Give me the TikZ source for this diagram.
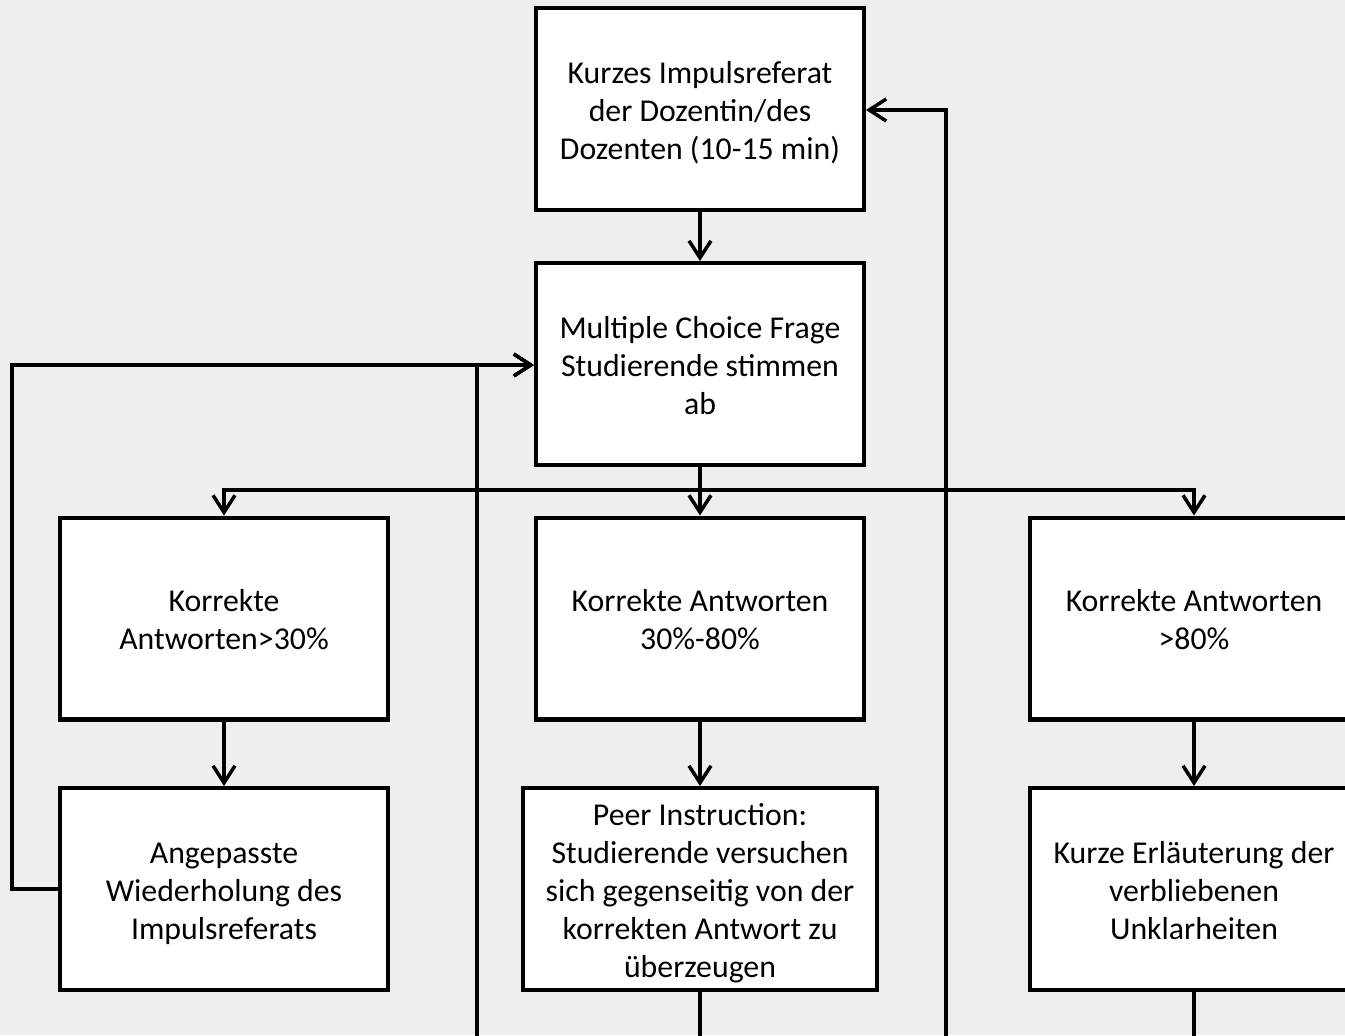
\documentclass[tikz,border=0pt]{standalone}
\usepackage{fontspec}
\setmainfont{Carlito}
\usetikzlibrary{arrows.meta}
\definecolor{bg}{RGB}{238,238,238}
\newcommand{\boxtext}[1]{\raisebox{-0.09cm}[\height][\depth]{\begin{tabular}{@{}c@{}}#1\end{tabular}}}
\begin{document}
\begin{tikzpicture}[x=0.02cm,y=-0.02cm,
  box/.style={draw=black,fill=white,line width=2.3pt,minimum width=6.56cm,minimum height=4.04cm,inner sep=2pt,font=\fontsize{18.1}{21.6}\selectfont},
  conn/.style={line width=2pt,draw=black},
  arr/.style={conn,-{Straight Barb[length=0.34cm,width=0.44cm,line width=2pt]}}]
\useasboundingbox (0,0) rectangle (1345,1035);
\clip (0,0) rectangle (1345,1035);
\fill[bg] (0,0) rectangle (1345,1035);
\node[box] (b1) at (700,109) {\boxtext{Kurzes Impulsreferat\\der Dozentin/des\\Dozenten (10-15 min)}};
\node[box] (b2) at (700,364) {\boxtext{Multiple Choice Frage\\Studierende stimmen\\ab}};
\node[box] (l1) at (224,618.5) {\boxtext{Korrekte\\Antworten>30\%}};
\node[box] (m1) at (700,618.5) {\boxtext{Korrekte Antworten\\30\%-80\%}};
\node[box] (r1) at (1194,618.5) {\boxtext{Korrekte Antworten\\>80\%}};
\node[box] (l2) at (224,889) {\boxtext{Angepasste\\Wiederholung des\\Impulsreferats}};
\node[box,minimum width=7.1cm] (m2) at (700,889) {\boxtext{Peer Instruction:\\Studierende versuchen\\sich gegenseitig von der\\korrekten Antwort zu\\überzeugen}};
\node[box] (r2) at (1194,889) {\boxtext{Kurze Erläuterung der\\verbliebenen\\Unklarheiten}};
\coordinate (j) at (700,490);
\coordinate (fl) at (12,889);
\coordinate (fl2) at (12,365);
\coordinate (mb) at (700,1080);
\coordinate (mc) at (477,1080);
\coordinate (md) at (477,365);
\coordinate (rb) at (1194,1080);
\coordinate (rc) at (946,1080);
\coordinate (rd) at (946,110);
\draw[arr] (b1) -- (b2);
\draw[conn] (b2) -- (j);
\draw[arr] (j) -| (l1);
\draw[arr] (j) -- (m1);
\draw[arr] (j) -| (r1);
\draw[arr] (l1) -- (l2);
\draw[arr] (m1) -- (m2);
\draw[arr] (r1) -- (r2);
\draw[arr] (l2.west) -- (fl) -- (fl2) -- (md) -- (b2.west |- md);
\draw[arr] (m2.south) -- (mb) -- (mc) -- (md) -- (b2.west |- md);
\draw[arr] (r2.south) -- (rb) -- (rc) -- (rd) -- (b1.east |- rd);
\end{tikzpicture}
\end{document}
